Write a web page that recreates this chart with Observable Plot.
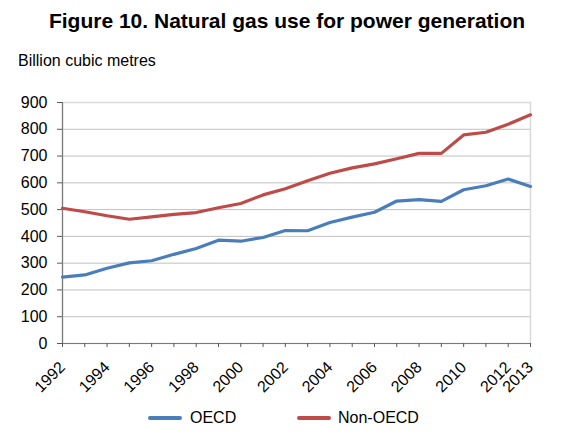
<!DOCTYPE html>
<html>
<head>
<meta charset="utf-8">
<script src="https://cdn.jsdelivr.net/npm/d3@7"></script>
<script src="https://cdn.jsdelivr.net/npm/@observablehq/plot@0.6"></script>
<style>
  body { margin: 0; background: #fff; font-family: "Liberation Sans", Arial, sans-serif; }
  #wrap { position: relative; width: 567px; height: 442px; overflow: hidden; }
  #title { position: absolute; top: 9px; left: 0; width: 574px; text-align: center; font-weight: bold; font-size: 21px; color: #000; }
  #unit { position: absolute; top: 52px; left: 18px; font-size: 16px; color: #000; }
  #chart { position: absolute; top: 88px; left: 0; }
  #legend { position: absolute; top: 407px; left: 0; width: 567px; height: 22px; font-size: 16px; }
  .sw { position: absolute; top: 9px; height: 4px; width: 34px; border-radius: 2px; }
  .lt { position: absolute; top: 2px; }
</style>
</head>
<body>
<div id="wrap">
  <div id="title">Figure 10. Natural gas use for power generation</div>
  <div id="unit">Billion cubic metres</div>
  <div id="chart"></div>
  <div id="legend"></div>
</div>
<script>
const years = d3.range(1992, 2014);
const oecd = [248, 256, 281, 301, 309, 333, 355, 386, 382, 396, 422, 421, 452, 472, 490, 532, 537, 531, 574, 589, 614, 586];
const nonOecd = [505, 492, 477, 464, 473, 482, 489, 507, 523, 555, 578, 608, 636, 656, 671, 690, 710, 710, 779, 789, 819, 854];
const seriesNames = ["OECD", "Non-OECD"];
const seriesColors = ["#4a7ebb", "#be4b48"];
const yTicks = d3.range(0, 901, 100);
const xLabelYears = [1992, 1994, 1996, 1998, 2000, 2002, 2004, 2006, 2008, 2010, 2012, 2013];

const data = [];
years.forEach((y, i) => {
  data.push({year: y, value: oecd[i], series: seriesNames[0]});
  data.push({year: y, value: nonOecd[i], series: seriesNames[1]});
});

const chart = Plot.plot({
  width: 567,
  height: 312,
  marginLeft: 62,
  marginRight: 37,
  marginTop: 14,
  marginBottom: 57,
  style: {fontFamily: "Liberation Sans, Arial, sans-serif", fontSize: "16px", color: "#000", background: "#fff"},
  x: {domain: [1992, 2013]},
  y: {domain: [0, 900]},
  color: {domain: seriesNames, range: seriesColors},
  marks: [
    Plot.gridY(yTicks, {stroke: "#c0c0c0", strokeOpacity: 1, strokeWidth: 1}),
    Plot.frame({stroke: "#d9d9d9", strokeWidth: 1.5}),
    Plot.ruleX([1992], {stroke: "#7a7a7a", strokeWidth: 1.2}),
    Plot.ruleY([0], {stroke: "#7a7a7a", strokeWidth: 1.2}),
    Plot.axisY(yTicks, {tickSize: 5, tickPadding: 10, stroke: "#595959", fill: "#000", fontSize: 16, label: null}),
    Plot.axisX(years, {tickSize: 4, tickFormat: () => "", stroke: "#595959", label: null}),
    Plot.axisX(xLabelYears, {tickSize: 0, tickPadding: 21, tickRotate: -45, tickFormat: d => String(d), fill: "#000", fontSize: 16, label: null}),
    Plot.line(data, {x: "year", y: "value", stroke: "series", strokeWidth: 3.2, strokeLinejoin: "round"})
  ]
});
document.getElementById("chart").appendChild(chart);

const legend = document.getElementById("legend");
const legendPos = [[148, 190], [297, 338]];
seriesNames.forEach((name, i) => {
  const sw = document.createElement("div");
  sw.className = "sw";
  sw.style.left = legendPos[i][0] + "px";
  sw.style.background = seriesColors[i];
  legend.appendChild(sw);
  const t = document.createElement("div");
  t.className = "lt";
  t.style.left = legendPos[i][1] + "px";
  t.textContent = name;
  legend.appendChild(t);
});
</script>
</body>
</html>
